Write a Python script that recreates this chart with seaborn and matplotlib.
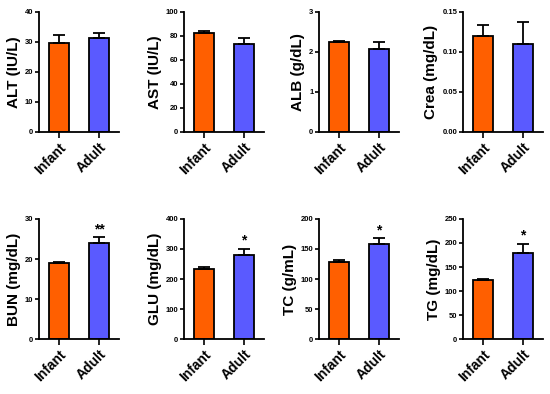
import numpy as np
import matplotlib
matplotlib.use('Agg')
import matplotlib.pyplot as plt
import seaborn as sns
import pandas as pd

grupos = ['Infant', 'Adult']

alt_media = [29.8, 31.4]
alt_erro = [2.5, 1.6]
ast_media = [82.2, 73.7]
ast_erro = [2.0, 4.8]
alb_media = [2.24, 2.07]
alb_erro = [0.04, 0.17]
crea_media = [0.120, 0.110]
crea_erro = [0.014, 0.027]
bun_media = [18.9, 24.0]
bun_erro = [0.4, 1.4]
glu_media = [232, 279]
glu_erro = [7, 20]
tc_media = [128.5, 157.5]
tc_erro = [2.5, 10]
tg_media = [122.5, 179]
tg_erro = [3.5, 19]

rotulos_y = ['ALT (IU/L)', 'AST (IU/L)', 'ALB (g/dL)', 'Crea (mg/dL)',
             'BUN (mg/dL)', 'GLU (mg/dL)', 'TC (g/mL)', 'TG (mg/dL)']
limites_y = [40, 100, 3, 0.15, 30, 400, 200, 250]
passos_y = [10, 20, 1, 0.05, 10, 100, 50, 50]
asteriscos = ['', '', '', '', '**', '*', '*', '*']

medias = [alt_media, ast_media, alb_media, crea_media, bun_media, glu_media, tc_media, tg_media]
erros = [alt_erro, ast_erro, alb_erro, crea_erro, bun_erro, glu_erro, tc_erro, tg_erro]

cores = ['#FF5F00', '#5A5AFF']

sns.set_style('ticks')
plt.rcParams['font.family'] = ['Liberation Sans', 'DejaVu Sans']
plt.rcParams['font.weight'] = 'bold'
plt.rcParams['text.color'] = 'black'
plt.rcParams['axes.labelcolor'] = 'black'
plt.rcParams['xtick.color'] = 'black'
plt.rcParams['ytick.color'] = 'black'
plt.rcParams['axes.edgecolor'] = 'black'

fig = plt.figure(figsize=(5.5, 3.94), dpi=100)

esquerdas = [39, 184, 319, 463]
topos = [12, 219]

for i in range(8):
    lin, col = i // 4, i % 4
    x0 = esquerdas[col] / 550
    y0 = (394 - topos[lin] - 120) / 394
    ax = fig.add_axes([x0, y0, 80 / 550, 120 / 394])

    df = pd.DataFrame({'grupo': grupos, 'valor': medias[i]})
    sns.barplot(data=df, x='grupo', y='valor', hue='grupo', palette=cores,
                saturation=1, width=0.52, edgecolor='black', linewidth=1.3,
                errorbar=None, legend=False, ax=ax)
    ax.errorbar([0, 1], medias[i], yerr=[[0, 0], erros[i]], fmt='none',
                ecolor='black', elinewidth=1.3, capsize=4, capthick=1.3, zorder=3)

    if asteriscos[i]:
        ax.annotate(asteriscos[i], (1, medias[i][1] + erros[i][1]), xytext=(0, 1),
                    textcoords='offset points', ha='center', va='bottom',
                    fontsize=10, fontweight='bold')

    ax.set_xlim(-0.5, 1.5)
    ax.set_ylim(0, limites_y[i])
    ax.set_yticks(np.arange(0, limites_y[i] + passos_y[i] / 2, passos_y[i]))
    if limites_y[i] < 1:
        ax.set_yticklabels([f'{v:.2f}' for v in ax.get_yticks()])
    elif limites_y[i] < 10:
        ax.set_yticklabels([f'{v:.0f}' for v in ax.get_yticks()])
    ax.set_xlabel('')
    ax.set_ylabel(rotulos_y[i], fontsize=11, fontweight='bold', labelpad=3)
    ax.tick_params(axis='y', labelsize=5.5, length=3, width=1.2, pad=1)
    ax.tick_params(axis='x', labelsize=10, length=4, width=1.2, pad=2)
    for lbl in ax.get_xticklabels():
        lbl.set_rotation(45)
        lbl.set_ha('right')
        lbl.set_rotation_mode('anchor')
        lbl.set_fontweight('bold')
    for lbl in ax.get_yticklabels():
        lbl.set_fontweight('bold')
    sns.despine(ax=ax)
    ax.spines['left'].set_linewidth(1.3)
    ax.spines['bottom'].set_linewidth(1.3)

fig.savefig('out.png', dpi=100)
